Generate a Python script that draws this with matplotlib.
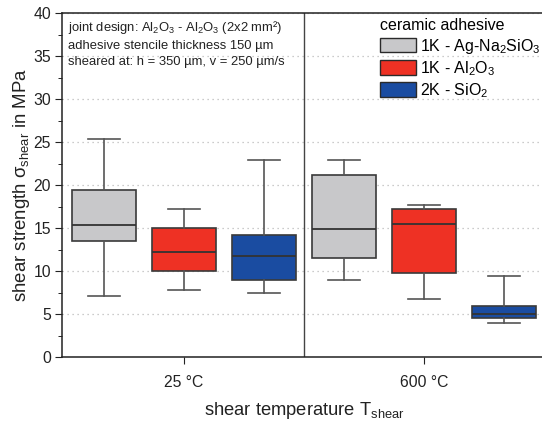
import matplotlib
matplotlib.use('Agg')
import matplotlib.pyplot as plt
from matplotlib.patches import Patch

plt.rcParams['font.family'] = ['Liberation Sans', 'DejaVu Sans']
plt.rcParams['mathtext.fontset'] = 'custom'
plt.rcParams['mathtext.rm'] = 'Liberation Sans'
plt.rcParams['mathtext.it'] = 'Liberation Sans'
plt.rcParams['mathtext.sf'] = 'Liberation Sans'

# box statistics, shear strength in MPa (25 °C: 3 adhesives, then 600 °C)
adhesives = ['1K - Ag-Na$_2$SiO$_3$', '1K - Al$_2$O$_3$', '2K - SiO$_2$']
temperatures = ['25 °C', '600 °C']
whislo = [7.1, 7.8, 7.5, 8.9, 6.7, 3.9]
q1 = [13.5, 10.0, 8.9, 11.5, 9.8, 4.5]
med = [15.3, 12.2, 11.7, 14.9, 15.5, 5.0]
q3 = [19.4, 15.0, 14.2, 21.2, 17.2, 5.9]
whishi = [25.3, 17.2, 22.9, 22.9, 17.7, 9.4]
colors = ['#c8c8ca', '#ee3124', '#1a4ca1']

fig = plt.figure(figsize=(5.42, 4.21), dpi=100)
ax = fig.add_axes([62 / 542, 64 / 421, 484 / 542, 344 / 421])

stats = []
for i in range(6):
    stats.append({'whislo': whislo[i], 'q1': q1[i], 'med': med[i],
                  'q3': q3[i], 'whishi': whishi[i], 'fliers': []})

bp = ax.bxp(stats, positions=range(1, 7), widths=0.8, patch_artist=True,
            showfliers=False,
            boxprops=dict(edgecolor='#3a3a3a', linewidth=1.2),
            medianprops=dict(color='#333333', linewidth=1.3),
            whiskerprops=dict(color='#555555', linewidth=1.2),
            capprops=dict(color='#555555', linewidth=1.2))
for i, box in enumerate(bp['boxes']):
    box.set_facecolor(colors[i % 3])

ax.set_xlim(0.475, 6.525)
ax.set_ylim(0, 40)
ax.set_yticks(range(0, 41, 5))
ax.set_yticks([2.5 + 5 * k for k in range(8)], minor=True)
ax.set_xticks([2, 5])
ax.set_xticklabels(temperatures)
ax.tick_params(axis='both', labelsize=11.3, colors='#222222', direction='out')
ax.tick_params(axis='y', which='major', length=5, pad=3)
ax.tick_params(axis='y', which='minor', length=3)
ax.tick_params(axis='x', length=5, pad=8)
ax.grid(axis='y', linestyle=(0, (1, 3)), color='#bbbbbb', linewidth=0.9)
ax.set_axisbelow(True)
ax.axvline(3.5, color='#444444', linewidth=1.0)
for s in ax.spines.values():
    s.set_color('#222222')
    s.set_linewidth(1.1)

ax.set_ylabel(r'shear strength $\sigma_{\mathrm{shear}}$ in MPa', fontsize=13.4,
              color='#222222', labelpad=1)
ax.set_xlabel(r'shear temperature T$_{\mathrm{shear}}$', fontsize=13.2,
              color='#222222', labelpad=7)

ax.text(0.012, 0.982,
        'joint design: Al$_2$O$_3$ - Al$_2$O$_3$ (2x2 mm²)\n'
        'adhesive stencile thickness 150 µm\n'
        'sheared at: h = 350 µm, v = 250 µm/s',
        transform=ax.transAxes, va='top', ha='left', fontsize=9.4,
        color='#222222', linespacing=1.45)

handles = [Patch(facecolor=c, edgecolor='#2a2a2a', linewidth=1.0) for c in colors]
leg = fig.legend(handles, adhesives, title='ceramic adhesive', loc='upper left',
                 bbox_to_anchor=(380 / 542, (421 - 18) / 421), frameon=False,
                 fontsize=11.5, title_fontsize=11.5, handlelength=2.25,
                 handleheight=1.05, handletextpad=0.25, labelspacing=0.22,
                 borderpad=0.0, borderaxespad=0.0)
leg._legend_box.align = 'left'

fig.savefig('out.png', dpi=100)
